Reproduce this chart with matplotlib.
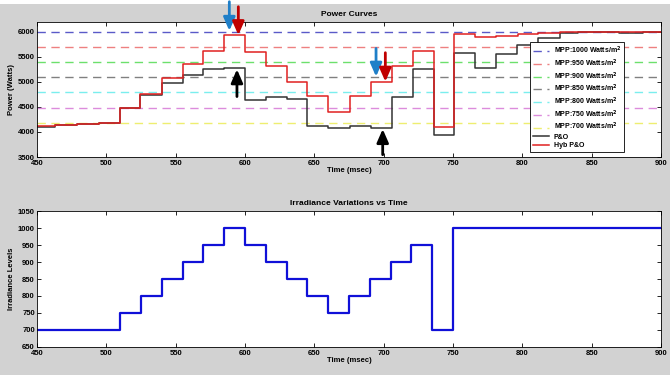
import numpy as np
import matplotlib.pyplot as plt
from matplotlib.patches import Rectangle

plt.rcParams['font.family'] = ['Liberation Sans', 'DejaVu Sans']
plt.rcParams['font.weight'] = 'bold'
plt.rcParams['axes.labelweight'] = 'bold'

# ---- data ----
mpp_levels = [1000, 950, 900, 850, 800, 750, 700]
mpp_power = [6000, 5700, 5400, 5100, 4790, 4480, 4170]
mpp_colors = ['#5a5ac8', '#ee8080', '#6ce06c', '#808080', '#7aeeee', '#dc8cdc', '#eeee70']

# Hyb P&O: step start times and power values
hyb_t = [450, 463, 479, 495, 510, 524.5, 540, 555, 570, 585, 600, 615, 630, 645, 660,
         676, 691, 706, 721, 736, 751, 766, 781, 797, 811, 827, 870, 900]
hyb_p = [4125, 4140, 4163, 4175, 4475, 4765, 5070, 5350, 5622, 5926, 5602, 5323, 5000, 4727, 4402,
         4727, 5005, 5317, 5622, 4097, 5946, 5900, 5920, 5950, 5970, 5987, 6000, 6000]

# P&O: step start times and power values
po_t = [450, 463, 479, 495, 510, 524.5, 540, 555, 570, 585, 600, 615, 630, 645, 660,
        676, 691, 706, 721, 736, 751, 766, 781, 796, 811, 827, 840, 870, 887, 900]
po_p = [4105, 4135, 4160, 4172, 4475, 4735, 4970, 5140, 5255, 5278, 4640, 4700, 4665, 4115, 4070,
        4110, 4085, 4693, 5257, 3944, 5568, 5270, 5555, 5741, 5880, 5966, 5987, 5975, 5995, 5995]

# irradiance profile
irr_t = [450, 510, 525, 540, 555, 570, 585, 600, 615, 630, 645, 660, 675, 690, 705, 720, 735, 750, 900]
irr_v = [700, 750, 800, 850, 900, 950, 1000, 950, 900, 850, 800, 750, 800, 850, 900, 950, 700, 1000, 1000]

# arrows: (x, y_tail, y_tip, color)
arrows = [(588.7, 6600, 6020, '#1f7fc8'),
          (595.2, 6500, 5934, '#c00000'),
          (594.2, 4707, 5250, 'black'),
          (694.5, 5668, 5105, '#1f7fc8'),
          (701.2, 5582, 5005, '#c00000'),
          (699.3, 3546, 4057, 'black')]

bg = '#d2d2d2'
fig = plt.figure(figsize=(6.7, 3.75), dpi=100, facecolor=bg)
fig.patches.append(Rectangle((0, 0.99), 1, 0.02, transform=fig.transFigure,
                             facecolor='white', edgecolor='none', zorder=-1))

fs = 5.5

def style_axes(ax):
    ax.tick_params(direction='in', length=3, width=0.6, labelsize=fs,
                   top=True, right=True, pad=1.5)
    ax.tick_params(axis='x', pad=2.5)
    for s in ax.spines.values():
        s.set_linewidth(0.6)
    ax.set_xlim(450, 900)
    ax.set_xticks(np.arange(450, 901, 50))

# ---- top: power curves ----
ax1 = fig.add_axes([0.0552, 0.5813, 0.9314, 0.36])
style_axes(ax1)
for lev, p, c in zip(mpp_levels, mpp_power, mpp_colors):
    ax1.axhline(p, color=c, lw=1.0, ls=(0, (6, 4)),
                label='MPP:%d Watts/m$^{\\mathbf{2}}$' % lev)
ax1.plot(po_t, po_p, drawstyle='steps-post', color='#333333', lw=1.1, label='P&O')
ax1.plot(hyb_t, hyb_p, drawstyle='steps-post', color='#e02020', lw=1.1, label='Hyb P&O')
ax1.set_ylim(3500, 6195)
ax1.set_yticks(np.arange(3500, 6001, 500))
ax1.set_title('Power Curves', fontsize=6, fontweight='bold', pad=4)
ax1.set_xlabel('Time (msec)', fontsize=fs, labelpad=0)
ax1.set_ylabel('Power (Watts)', fontsize=fs, labelpad=2)

for x, y0, y1, c in arrows:
    ax1.annotate('', xy=(x, y1), xytext=(x, y0), annotation_clip=False,
                 arrowprops=dict(arrowstyle='-|>,head_length=0.8,head_width=0.35',
                                 color=c, lw=2.0, shrinkA=0, shrinkB=0))

leg = ax1.legend(loc='lower left', bbox_to_anchor=(0.79, 0.037), fontsize=5,
                 frameon=True, fancybox=False, edgecolor='black', framealpha=1,
                 handlelength=2.4, labelspacing=0.2, borderpad=0.4,
                 handletextpad=0.6, borderaxespad=0)
leg.get_frame().set_linewidth(0.6)

# ---- bottom: irradiance ----
ax2 = fig.add_axes([0.0552, 0.0747, 0.9314, 0.3626])
style_axes(ax2)
ax2.plot(irr_t, irr_v, drawstyle='steps-post', color='#1010d8', lw=1.6)
ax2.set_ylim(650, 1050)
ax2.set_yticks(np.arange(650, 1051, 50))
ax2.set_title('Irradiance Variations vs Time', fontsize=6, fontweight='bold', pad=4)
ax2.set_xlabel('Time (msec)', fontsize=fs, labelpad=0)
ax2.set_ylabel('Irradiance Levels', fontsize=fs, labelpad=2)

fig.savefig('out.png', dpi=100, facecolor=bg)
